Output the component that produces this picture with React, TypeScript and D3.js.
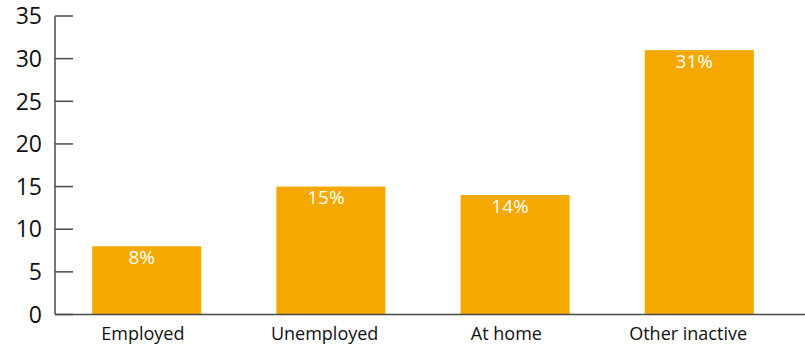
import React from "react";
import * as d3 from "d3";

const categories = ["Employed", "Unemployed", "At home", "Other inactive"];
const values = [8, 15, 14, 31];
const valueLabels = ["8%", "15%", "14%", "31%"];
const yTicks = [0, 5, 10, 15, 20, 25, 30, 35];

const W = 805;
const H = 344;
const FONT = "'Open Sans', 'Noto Sans', sans-serif";

export default function App() {
  const y = d3.scaleLinear().domain([0, 35]).range([314.5, 16]);
  const xBars = d3
    .scaleBand<string>()
    .domain(categories)
    .range([92.2, 753.8])
    .paddingInner(0.408)
    .paddingOuter(0);
  const xLabels = d3.scaleBand<string>().domain(categories).range([52, 779]);
  const axisX0 = 55;
  const axisColor = "#4a4a4a";

  return (
    <svg
      width={W}
      height={H}
      style={{ position: "absolute", left: 0, top: 0 }}
      fontFamily={FONT}
    >
      <rect x={0} y={0} width={W} height={H} fill="#fff" />
      {categories.map((c, i) => (
        <rect
          key={c}
          x={xBars(c)}
          y={y(values[i])}
          width={xBars.bandwidth()}
          height={y(0) - y(values[i])}
          fill="#F5A800"
        />
      ))}
      {categories.map((c, i) => (
        <text
          key={"v" + c}
          x={(xBars(c) as number) + xBars.bandwidth() / 2 - 5}
          y={y(values[i]) + 17.5}
          textAnchor="middle"
          fontSize={19}
          fill="#fff"
        >
          {valueLabels[i]}
        </text>
      ))}
      {/* x axis */}
      <line x1={axisX0} x2={W} y1={y(0)} y2={y(0)} stroke={axisColor} strokeWidth={1.5} />
      {/* y axis */}
      <line x1={axisX0} x2={axisX0} y1={y(35)} y2={y(0)} stroke={axisColor} strokeWidth={1.5} />
      {yTicks.map((t) => (
        <g key={t}>
          <line x1={axisX0} x2={axisX0 + 18} y1={y(t)} y2={y(t)} stroke={axisColor} strokeWidth={1.5} />
          <text
            x={42}
            y={y(t)}
            dy="0.36em"
            textAnchor="end"
            fontSize={23}
            fill="#111"
          >
            {t}
          </text>
        </g>
      ))}
      {categories.map((c) => (
        <text
          key={"l" + c}
          x={(xLabels(c) as number) + xLabels.bandwidth() / 2}
          y={340}
          textAnchor="middle"
          fontSize={18}
          fill="#111"
        >
          {c}
        </text>
      ))}
    </svg>
  );
}
